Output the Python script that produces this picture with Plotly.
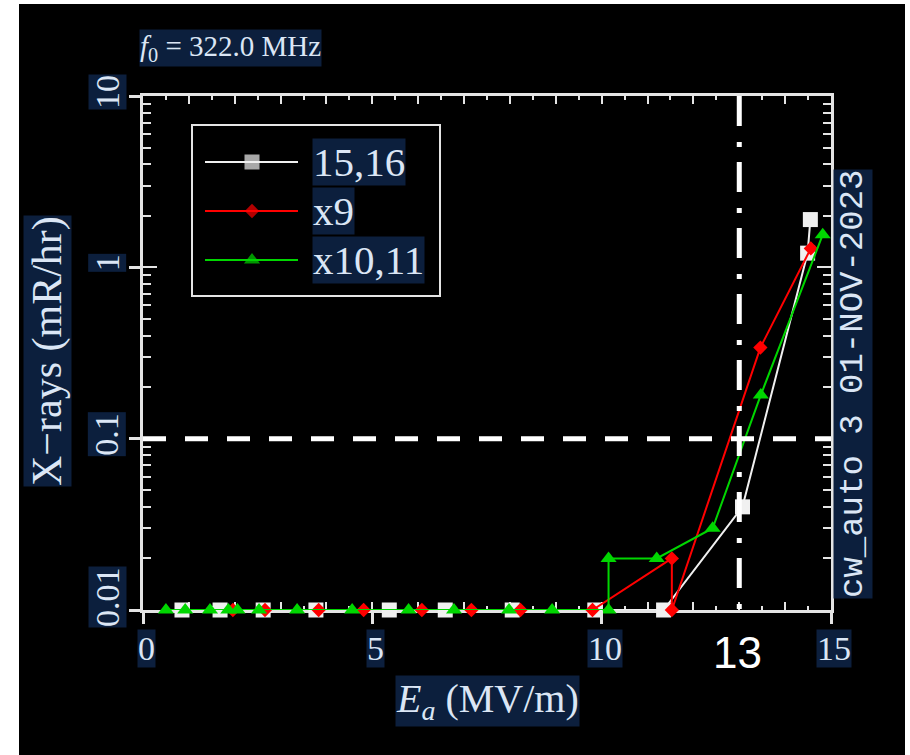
import math
import plotly.graph_objects as go

# ---------------- data ----------------
series_names = ["15,16", "x9", "x10,11"]

white_x = [0.85, 1.68, 2.62, 3.77, 5.37, 6.59, 8.05, 9.85, 11.35, 13.07, 14.49, 14.55]
white_y = [0.01, 0.01, 0.01, 0.01, 0.01, 0.01, 0.01, 0.01, 0.01, 0.04, 1.21, 1.90]

red_x = [1.96, 2.66, 3.83, 4.81, 6.08, 7.16, 8.23, 9.80, 11.53, 11.53, 13.46, 14.56]
red_y = [0.01, 0.01, 0.01, 0.01, 0.01, 0.01, 0.01, 0.01, 0.02, 0.01, 0.34, 1.29]

green_x = [0.50, 0.92, 1.46, 1.86, 2.06, 2.53, 3.36, 4.56, 5.79, 6.78, 7.98, 8.92,
           10.15, 10.15, 11.20, 12.42, 13.47, 14.82]
green_y = [0.01, 0.01, 0.01, 0.01, 0.01, 0.01, 0.01, 0.01, 0.01, 0.01, 0.01, 0.01,
           0.01, 0.02, 0.02, 0.03, 0.18, 1.55]

x_ticks = [0, 5, 10, 15]
y_ticks = [0.01, 0.1, 1, 10]
x_range = [0, 15]
y_range_log = [-2, 1]

threshold_y = 0.1
marked_x = 13

title_text = "<i>f</i><sub>0</sub> = 322.0 MHz"
x_title = "<i>E</i><sub><i>a</i></sub> (MV/m)"
y_title = "X\u2212rays (mR/hr)"
side_text = "cw_auto 3 01-NOV-2023"

# ---------------- style ----------------
W, H = 910, 755
ML, MR, MT, MB = 143, 79, 96, 145
PW, PH = W - ML - MR, H - MT - MB
TXT = "#dbe6f5"
HL = "#0c1f3d"
AX = "#e4e4e4"
SERIF = "Liberation Serif"
colors = ["#f0f0f0", "#ff0000", "#00d600"]
symbols = ["square", "diamond", "triangle-up"]
msizes = [15, 11, 14]

fig = go.Figure()

for xs, ys, name, c, s, ms in zip([white_x, red_x, green_x], [white_y, red_y, green_y],
                                  series_names, colors, symbols, msizes):
    fig.add_trace(go.Scatter(x=xs, y=ys, mode="lines+markers", name=name,
                             line=dict(color=c, width=2),
                             marker=dict(symbol=s, size=ms, color=c, line=dict(width=0)),
                             cliponaxis=False, showlegend=False))

# dummy trace for overlay axes (outer parts of major ticks)
fig.add_trace(go.Scatter(x=[], y=[], xaxis="x2", yaxis="y2", showlegend=False))


def px_to_x(px):
    return x_range[0] + (px - ML) / PW * (x_range[1] - x_range[0])


def py_to_y(py):
    frac = ((MT + PH) - py) / PH
    return 10 ** (y_range_log[0] + frac * (y_range_log[1] - y_range_log[0]))


# manual legend samples
leg_rows_px = [162, 211, 260]
lx0, lxm, lx1 = px_to_x(205), px_to_x(252), px_to_x(298)
for row, c, s, ms in zip(leg_rows_px, colors, symbols, msizes):
    yv = py_to_y(row)
    fig.add_trace(go.Scatter(x=[lx0, lxm, lx1], y=[yv, yv, yv], mode="lines+markers",
                             line=dict(color=c, width=2),
                             marker=dict(symbol=s, size=[0, ms, 0], color=c, line=dict(width=0)),
                             cliponaxis=False, showlegend=False, hoverinfo="skip"))

shapes = []
# white margins of the picture
shapes.append(dict(type="rect", xref="paper", yref="paper", x0=-ML / PW, x1=(19 - ML) / PW,
                   y0=-MB / PH, y1=(MT + PH) / PH, fillcolor="white", line=dict(width=0)))
shapes.append(dict(type="rect", xref="paper", yref="paper", x0=-ML / PW, x1=(W - ML) / PW,
                   y0=(MT + PH - 4) / PH, y1=(MT + PH) / PH, fillcolor="white", line=dict(width=0)))
shapes.append(dict(type="rect", xref="paper", yref="paper", x0=(905 - ML) / PW, x1=(W - ML) / PW,
                   y0=-MB / PH, y1=(MT + PH) / PH, fillcolor="white", line=dict(width=0)))
# legend box
shapes.append(dict(type="rect", xref="paper", yref="paper",
                   x0=(192 - ML) / PW, x1=(440 - ML) / PW,
                   y0=(MT + PH - 296) / PH, y1=(MT + PH - 125) / PH,
                   line=dict(color=AX, width=2), fillcolor="rgba(0,0,0,0)"))
# reference lines
shapes.append(dict(type="line", xref="x", yref="y", x0=x_range[0], x1=x_range[1],
                   y0=threshold_y, y1=threshold_y,
                   line=dict(color="white", width=5, dash="23px,19px")))
shapes.append(dict(type="line", xref="x", yref="paper", x0=marked_x, x1=marked_x,
                   y0=1, y1=0, line=dict(color="white", width=5, dash="30px,16px,5px,15px")))

ann = []
font_tick = dict(family=SERIF, size=34, color=TXT)
for v in x_ticks:
    ann.append(dict(x=v, xref="x", y=0, yref="paper", text=str(v), showarrow=False,
                    xanchor="center", yanchor="middle", xshift=3, yshift=-38,
                    font=font_tick, bgcolor=HL, borderpad=0))
for v in y_ticks:
    lbl = ("%g" % v)
    ann.append(dict(x=0, xref="paper", y=math.log10(v), yref="y", text=lbl, showarrow=False,
                    xanchor="center", yanchor="middle", xshift=-36,
                    yshift=13 if v == y_ticks[0] else 4, textangle=-90,
                    font=font_tick, bgcolor=HL, borderpad=0))
ann.append(dict(x=0, xref="paper", y=(MT + PH - 351) / PH, yref="paper", text=y_title,
                showarrow=False, xanchor="center", yanchor="middle", xshift=-96, textangle=-90,
                font=dict(family=SERIF, size=42, color=TXT), bgcolor=HL, borderpad=0))
ann.append(dict(x=(487 - ML) / PW, xref="paper", y=0, yref="paper", text=x_title,
                showarrow=False, xanchor="center", yanchor="middle", yshift=-91,
                font=dict(family=SERIF, size=40, color=TXT), bgcolor=HL, borderpad=0))
ann.append(dict(x=0, xref="paper", y=1, yref="paper", text=title_text, showarrow=False,
                xanchor="left", yanchor="middle", xshift=-4, yshift=48,
                font=dict(family=SERIF, size=29, color=TXT), bgcolor=HL, borderpad=0))
ann.append(dict(x=marked_x, xref="x", y=0, yref="paper", text=str(marked_x), showarrow=False,
                xanchor="center", yanchor="middle", xshift=-2, yshift=-42,
                font=dict(family="Liberation Sans", size=44, color="white")))
ann.append(dict(x=1, xref="paper", y=(MT + PH - 384) / PH, yref="paper", text=side_text,
                showarrow=False, xanchor="center", yanchor="middle", xshift=22, textangle=-90,
                font=dict(family="Liberation Mono", size=34, color=TXT), bgcolor=HL, borderpad=0))
for row, name in zip(leg_rows_px, series_names):
    ann.append(dict(x=(312 - ML) / PW, xref="paper", y=(MT + PH - row) / PH, yref="paper",
                    text=name, showarrow=False, xanchor="left", yanchor="middle",
                    font=dict(family=SERIF, size=41, color=TXT), bgcolor=HL, borderpad=0))

fig.update_layout(
    width=W, height=H, autosize=False,
    margin=dict(l=ML, r=MR, t=MT, b=MB, pad=0),
    paper_bgcolor="black", plot_bgcolor="black",
    showlegend=False,
    shapes=shapes, annotations=ann,
    xaxis=dict(range=x_range, showgrid=False, zeroline=False, showline=True, linecolor=AX,
               linewidth=3, mirror="ticks", ticks="inside", tickmode="linear", tick0=0, dtick=1,
               ticklen=8, tickwidth=2, tickcolor=AX, showticklabels=False, layer="below traces",
               minor=dict(ticks="inside", dtick=0.5, ticklen=4, tickwidth=2, tickcolor=AX,
                          showgrid=False)),
    yaxis=dict(type="log", range=y_range_log, showgrid=False, zeroline=False, showline=True,
               linecolor=AX, linewidth=3, mirror="ticks", ticks="inside", dtick=1,
               ticklen=14, tickwidth=2, tickcolor=AX, showticklabels=False, layer="below traces",
               minor=dict(ticks="inside", dtick="D1", ticklen=8, tickwidth=2, tickcolor=AX,
                          showgrid=False)),
    xaxis2=dict(overlaying="x", anchor="y", range=x_range, tickmode="array", tickvals=x_ticks,
                ticks="outside", ticklen=13, tickwidth=2.5, tickcolor=AX, showline=False,
                showgrid=False, zeroline=False, showticklabels=False),
    yaxis2=dict(overlaying="y", anchor="x", side="left", type="log", range=y_range_log,
                tickmode="array", tickvals=y_ticks, ticks="outside", ticklen=13, tickwidth=2.5,
                tickcolor=AX, showline=False, showgrid=False, zeroline=False,
                showticklabels=False),
)

fig.write_html("out.html")
